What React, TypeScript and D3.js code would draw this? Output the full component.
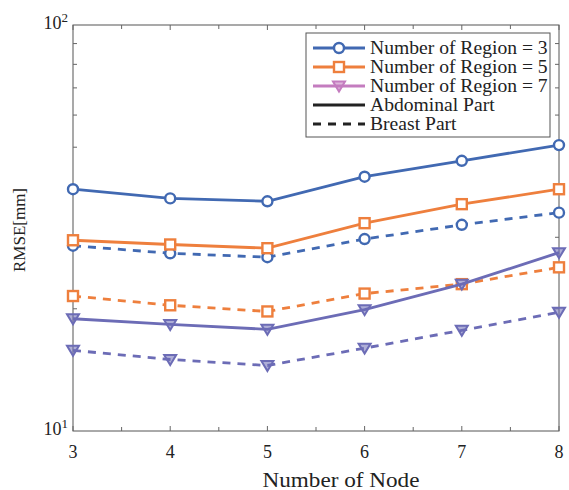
import * as d3 from "d3";
import { useEffect, useRef } from "react";

const nodes = [3, 4, 5, 6, 7, 8];

// RMSE values
const abdominalR3 = [39.4, 37.4, 36.8, 42.3, 46.3, 50.6];
const abdominalR5 = [29.5, 28.8, 28.2, 32.5, 36.2, 39.4];
const abdominalR7 = [18.9, 18.3, 17.8, 19.9, 23.0, 27.5];
const breastR3 = [28.6, 27.4, 26.8, 29.7, 32.2, 34.5];
const breastR5 = [21.5, 20.4, 19.7, 21.8, 23.0, 25.3];
const breastR7 = [15.8, 15.0, 14.5, 16.0, 17.7, 19.6];

const legendLabels = [
    "Number of Region = 3",
    "Number of Region = 5",
    "Number of Region = 7",
    "Abdominal Part",
    "Breast Part"
];

const BLUE = "#4169b2";
const ORANGE = "#ee7f3d";
const PURPLE = "#6c6cb6";
const PINK = "#c47cbf";

const App = () => {
    const ref = useRef<SVGSVGElement>(null);

    useEffect(() => {
        renderChart(ref.current);
    }, []);

    return (
        <svg ref={ref} width="569" height="490"
            style={{ position: "absolute", left: 0, top: 0, background: "white" }} />
    );
};

const drawMarker = (g: any, kind: string, x: number, y: number, color: string) => {
    if (kind === "circle") {
        g.append("circle")
            .attr("cx", x).attr("cy", y).attr("r", 5)
            .attr("fill", "white").attr("stroke", color).attr("stroke-width", 2.4);
    } else if (kind === "square") {
        g.append("rect")
            .attr("x", x - 5).attr("y", y - 5).attr("width", 10).attr("height", 10)
            .attr("fill", "white").attr("stroke", color).attr("stroke-width", 2.4);
    } else {
        g.append("path")
            .attr("d", `M${x - 6},${y - 4.5} L${x + 6},${y - 4.5} L${x},${y + 5.5} Z`)
            .attr("fill", color).attr("fill-opacity", 0.55)
            .attr("stroke", color).attr("stroke-width", 2);
    }
};

const renderChart = (node: SVGSVGElement | null) => {
    if (!node) return;
    const svg = d3.select(node);
    svg.selectAll("*").remove();

    const margin = { top: 25, left: 73, right: 10, bottom: 59 };
    const width = 569 - margin.left - margin.right;
    const height = 490 - margin.top - margin.bottom;

    const xScale = d3.scaleLinear().domain([3, 8]).range([0, width]);
    const yScale = d3.scaleLog().domain([10, 100]).range([height, 0]);

    const g = svg.append("g")
        .attr("transform", "translate(" + margin.left + "," + margin.top + ")");

    const font = "Liberation Serif";

    // frame
    g.append("rect")
        .attr("x", 0).attr("y", 0).attr("width", width).attr("height", height)
        .attr("fill", "none").attr("stroke", "#555").attr("stroke-width", 1);

    // inward ticks
    const xMajor = nodes;
    const xMinor = d3.range(3.5, 8, 1);
    const yMinor = d3.range(20, 100, 10);
    const tickColor = "#666";
    xMajor.concat(xMinor).forEach(v => {
        const len = xMajor.includes(v) ? 5 : 4;
        g.append("line").attr("x1", xScale(v)).attr("x2", xScale(v))
            .attr("y1", height).attr("y2", height - len).attr("stroke", tickColor);
        g.append("line").attr("x1", xScale(v)).attr("x2", xScale(v))
            .attr("y1", 0).attr("y2", len).attr("stroke", tickColor);
    });
    yMinor.forEach(v => {
        g.append("line").attr("x1", 0).attr("x2", 4)
            .attr("y1", yScale(v)).attr("y2", yScale(v)).attr("stroke", tickColor);
        g.append("line").attr("x1", width).attr("x2", width - 4)
            .attr("y1", yScale(v)).attr("y2", yScale(v)).attr("stroke", tickColor);
    });

    // x tick labels
    g.selectAll(".xlab").data(xMajor).enter().append("text")
        .attr("x", d => xScale(d)).attr("y", height + 27)
        .attr("text-anchor", "middle")
        .attr("font-family", font).attr("font-size", 18).attr("fill", "#222")
        .text(d => d);

    // y tick labels 10^1, 10^2
    [10, 100].forEach(v => {
        const t = g.append("text")
            .attr("x", -5).attr("y", yScale(v) + 4)
            .attr("text-anchor", "end")
            .attr("font-family", font).attr("font-size", 18).attr("fill", "#222");
        t.append("tspan").text("10");
        t.append("tspan").attr("dy", -7).attr("font-size", 13).text(v === 10 ? "1" : "2");
    });

    // axis titles
    svg.append("text")
        .attr("x", 341).attr("y", 487)
        .attr("text-anchor", "middle")
        .attr("font-family", font).attr("font-size", 20).attr("fill", "#222")
        .attr("textLength", 157).attr("lengthAdjust", "spacingAndGlyphs")
        .text("Number of Node");
    svg.append("text")
        .attr("transform", "translate(25," + (margin.top + height / 2 + 2) + ") rotate(-90)")
        .attr("text-anchor", "middle")
        .attr("font-family", font).attr("font-size", 17).attr("fill", "#222")
        .text("RMSE[mm]");

    const series = [
        { values: breastR7, color: PURPLE, marker: "triangle", dashed: true },
        { values: breastR5, color: ORANGE, marker: "square", dashed: true },
        { values: breastR3, color: BLUE, marker: "circle", dashed: true },
        { values: abdominalR7, color: PURPLE, marker: "triangle", dashed: false },
        { values: abdominalR5, color: ORANGE, marker: "square", dashed: false },
        { values: abdominalR3, color: BLUE, marker: "circle", dashed: false }
    ];

    const line = d3.line<number>()
        .x((d, i) => xScale(nodes[i]))
        .y(d => yScale(d));

    series.forEach(s => {
        g.append("path")
            .datum(s.values)
            .attr("d", line)
            .attr("fill", "none")
            .attr("stroke", s.color)
            .attr("stroke-width", 2.8)
            .attr("stroke-dasharray", s.dashed ? "8,7" : null);
        s.values.forEach((v, i) => drawMarker(g, s.marker, xScale(nodes[i]), yScale(v), s.color));
    });

    // legend
    const lg = svg.append("g").attr("transform", "translate(306,33)");
    lg.append("rect")
        .attr("x", 0).attr("y", 0).attr("width", 244).attr("height", 104)
        .attr("fill", "white").attr("stroke", "#555").attr("stroke-width", 1);

    const legendStyles = [
        { color: BLUE, marker: "circle", dashed: false },
        { color: ORANGE, marker: "square", dashed: false },
        { color: PINK, marker: "triangle", dashed: false },
        { color: "#222", marker: null, dashed: false },
        { color: "#222", marker: null, dashed: true }
    ];

    legendLabels.forEach((label, i) => {
        const y = 15 + i * 19;
        const st = legendStyles[i];
        lg.append("line")
            .attr("x1", 7).attr("x2", 59).attr("y1", y).attr("y2", y)
            .attr("stroke", st.color).attr("stroke-width", 2.8)
            .attr("stroke-dasharray", st.dashed ? "8,7" : null);
        if (st.marker) drawMarker(lg, st.marker, 33, y, st.color);
        lg.append("text")
            .attr("transform", "translate(64," + (y + 6) + ") scale(1.09,1)")
            .attr("font-family", font).attr("font-size", 18).attr("fill", "#222")
            .text(label);
    });
};

export default App;
